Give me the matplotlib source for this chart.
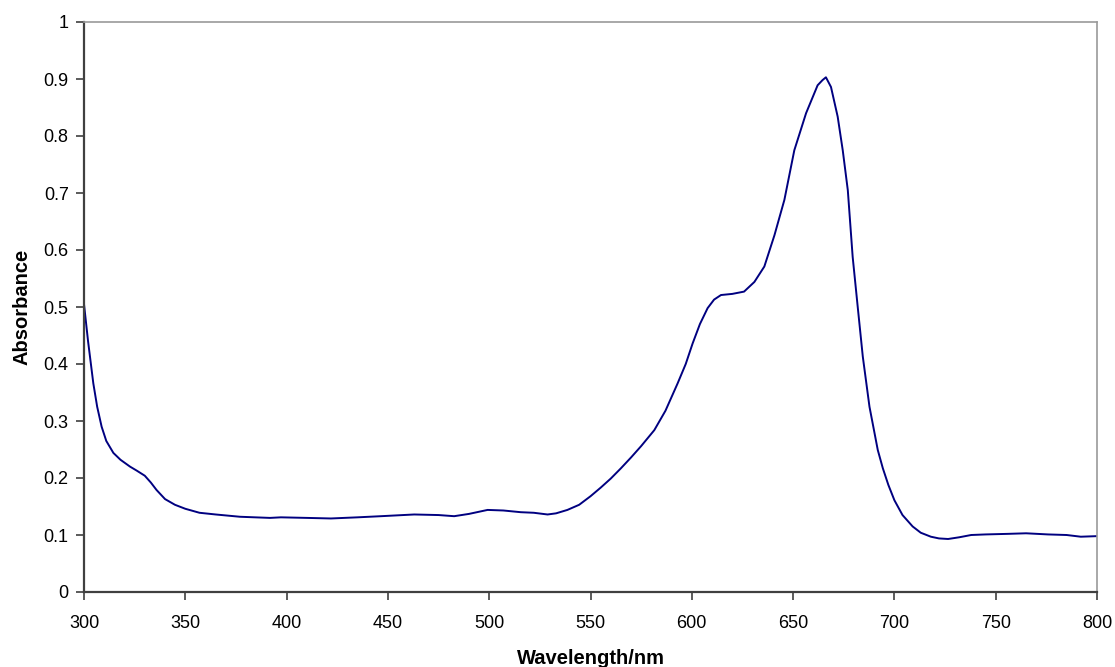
import matplotlib
matplotlib.use("Agg")
import matplotlib.pyplot as plt

WAVELENGTH = [300, 302, 304.6, 306.5, 308.7, 311, 314.5, 318, 322.7, 326, 330, 333,
              335.8, 340, 344.9, 350, 357, 365, 377, 391.8, 397.2, 410, 421.9, 435,
              446.6, 463, 475, 482.7, 490, 499.2, 507, 515.6, 522, 528.8, 533, 538.6,
              544.4, 550, 555, 560, 565, 570, 575, 581.5, 587, 593, 597, 600.4, 604,
              607.8, 611, 614.4, 620, 625.8, 630.9, 635.8, 640.8, 645.7, 650.6, 656.4,
              662.1, 664.5, 666.2, 668.7, 672, 674.5, 677, 679.4, 681.9, 684.4, 687.7,
              691.8, 694.3, 697, 700, 704, 709, 713, 718, 722, 726.5, 732, 737.9, 745,
              756, 765, 775.8, 785, 792, 800]
ABSORBANCE = [0.505, 0.44, 0.366, 0.325, 0.29, 0.265, 0.244, 0.232, 0.220, 0.213, 0.204, 0.192,
              0.179, 0.163, 0.153, 0.146, 0.139, 0.136, 0.132, 0.130, 0.131, 0.130, 0.129, 0.131,
              0.133, 0.136, 0.135, 0.133, 0.137, 0.144, 0.143, 0.140, 0.139, 0.136, 0.138, 0.144,
              0.153, 0.168, 0.183, 0.199, 0.217, 0.236, 0.256, 0.284, 0.318, 0.366, 0.400, 0.436, 0.470,
              0.498, 0.513, 0.521, 0.523, 0.527, 0.544, 0.571, 0.626, 0.688, 0.775, 0.840,
              0.889, 0.898, 0.903, 0.886, 0.834, 0.775, 0.705, 0.588, 0.500, 0.413, 0.325,
              0.249, 0.217, 0.188, 0.161, 0.135, 0.115, 0.104, 0.097, 0.094, 0.093, 0.096, 0.100, 0.101,
              0.102, 0.103, 0.101, 0.100, 0.097, 0.098]

plt.rcParams["font.family"] = ["Liberation Sans", "DejaVu Sans"]

fig = plt.figure(figsize=(11.15, 6.67), dpi=100)
ax = fig.add_axes([84 / 1115, 75 / 667, (1097 - 84) / 1115, (592 - 22) / 667])

ax.plot(WAVELENGTH, ABSORBANCE, color="#000080", lw=1.4)

ax.set_xlim(300, 800)
ax.set_ylim(0, 1)
ax.set_xticks(range(300, 801, 50))
ax.set_yticks([i / 10 for i in range(11)])
ax.set_yticklabels(["0"] + [f"{i / 10:g}" for i in range(1, 10)] + ["1"])

for side in ("left", "bottom"):
    ax.spines[side].set_color("#404040")
    ax.spines[side].set_linewidth(1.6)
for side in ("top", "right"):
    ax.spines[side].set_color("#9a9a9a")
    ax.spines[side].set_linewidth(1.2)

ax.tick_params(direction="out", length=6, width=1.2, color="#404040",
               labelsize=13, pad=5)
ax.tick_params(axis="x", pad=10.5)

ax.set_xlabel("Wavelength/nm", fontsize=14.5, fontweight="bold", labelpad=12)
ax.set_ylabel("Absorbance", fontsize=14.5, fontweight="bold", labelpad=9)

fig.savefig("out.png", dpi=100)
